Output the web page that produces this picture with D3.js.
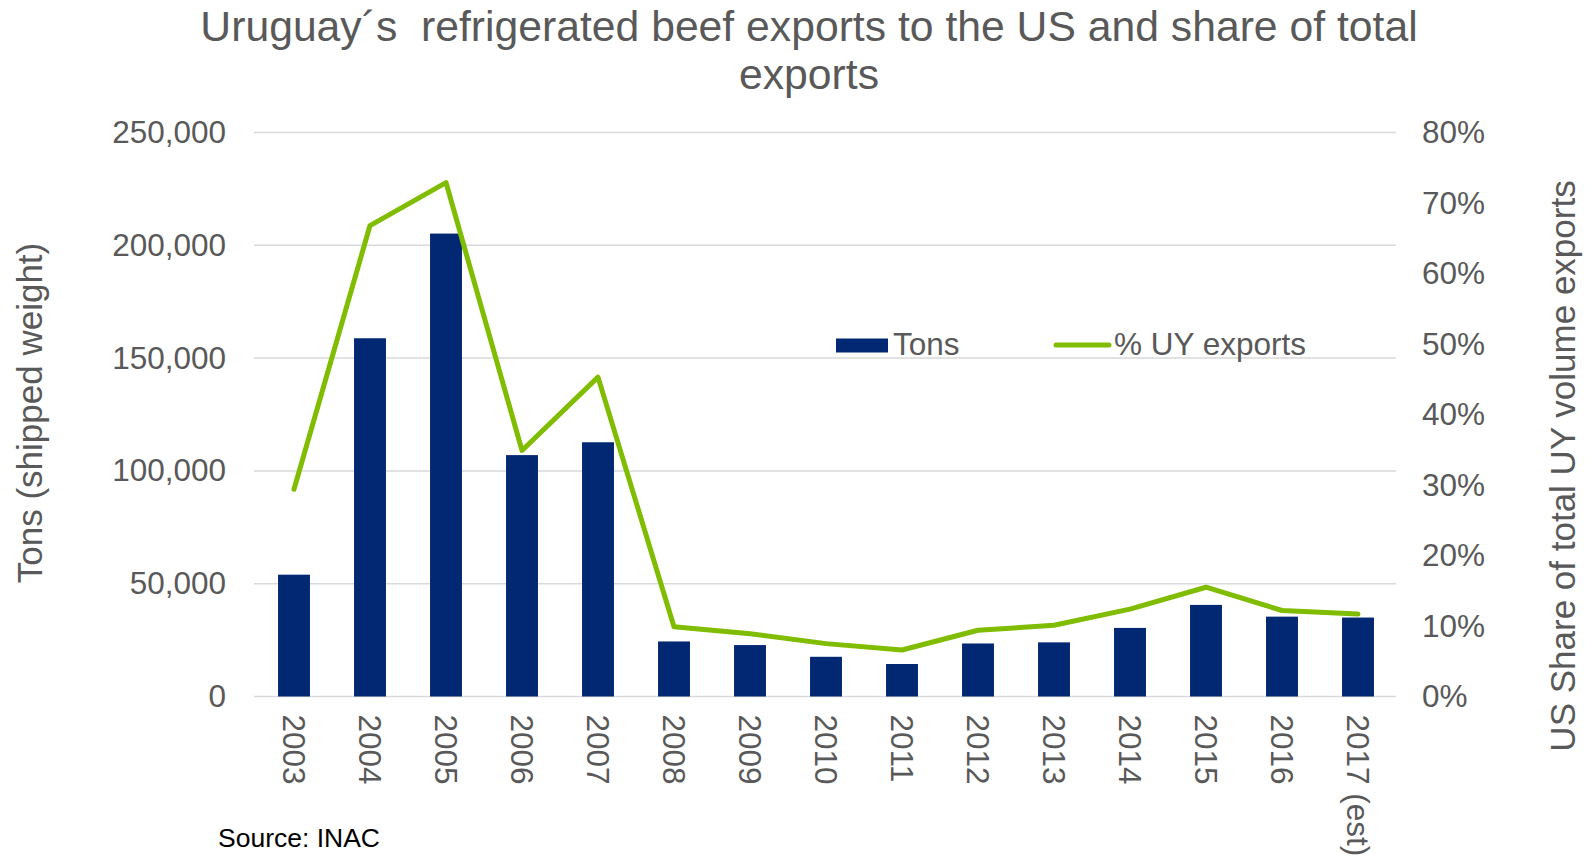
<!DOCTYPE html>
<html>
<head>
<meta charset="utf-8">
<script src="https://cdn.jsdelivr.net/npm/d3@7"></script>
<style>
  html, body { margin: 0; padding: 0; background: #fff; }
  svg { display: block; font-family: "Liberation Sans", Arial, sans-serif; }
</style>
</head>
<body>
<svg id="chart" width="1595" height="856"></svg>
<script>
// data

const years = ['2003', '2004', '2005', '2006', '2007', '2008', '2009', '2010',
               '2011', '2012', '2013', '2014', '2015', '2016', '2017 (est)']
const tons = [54000, 158800, 205200, 107000, 112700, 24400, 22800, 17600,
              14400, 23500, 24000, 30400, 40600, 35400, 35000]
const share = [0.294, 0.668, 0.729, 0.349, 0.453, 0.099, 0.089, 0.075,
               0.066, 0.094, 0.101, 0.124, 0.155, 0.122, 0.117]
const tonTicks = [0, 50000, 100000, 150000, 200000, 250000]
const shareTicks = [0, 0.1, 0.2, 0.3, 0.4, 0.5, 0.6, 0.7, 0.8]

const BAR = '#022873'
const LINE = '#80bc00'
const GREY = '#595959'
const GRID = '#d9d9d9'

const PLOT = { left: 256, right: 1396, top: 132.5, bottom: 696.5 }

const svg = d3.select('#chart')

let x = d3.scaleBand()
  .domain(years)
  .range([PLOT.left, PLOT.right])
  .paddingInner(0.58)
  .paddingOuter(0.29)
let cx = (d) => x(d) + x.bandwidth() / 2

let y = d3.scaleLinear().domain([0, 250000]).range([PLOT.bottom, PLOT.top])
let y2 = d3.scaleLinear().domain([0, 0.8]).range([PLOT.bottom, PLOT.top])

// title
svg.append('text')
  .attr('x', 809).attr('y', 41)
  .attr('text-anchor', 'middle')
  .attr('font-size', 42.7).attr('fill', GREY)
  .text('Uruguay\u00b4s\u00a0 refrigerated beef exports to the US and share of total')
svg.append('text')
  .attr('x', 809).attr('y', 89)
  .attr('text-anchor', 'middle')
  .attr('font-size', 42.7).attr('fill', GREY)
  .text('exports')

// gridlines
svg.append('g')
  .selectAll('line')
  .data(tonTicks)
  .join('line')
    .attr('x1', PLOT.left - 2).attr('x2', PLOT.right)
    .attr('y1', (d) => y(d)).attr('y2', (d) => y(d))
    .attr('stroke', GRID).attr('stroke-width', 1.5)

// left axis
let left = svg.append('g')
  .attr('transform', 'translate(' + (PLOT.left - 30) + ',0)')
  .call(d3.axisLeft(y).tickValues(tonTicks).tickFormat(d3.format(',')).tickSize(0).tickPadding(0))
left.select('.domain').remove()
left.selectAll('text')
  .attr('font-size', 31.5).attr('fill', GREY).attr('font-family', null)

// right axis
let right = svg.append('g')
  .attr('transform', 'translate(' + (PLOT.right + 26) + ',0)')
  .call(d3.axisRight(y2).tickValues(shareTicks).tickFormat(d3.format('.0%')).tickSize(0).tickPadding(0))
right.select('.domain').remove()
right.selectAll('text')
  .attr('font-size', 31.5).attr('fill', GREY).attr('font-family', null)

// bars
svg.append('g')
  .selectAll('rect')
  .data(years)
  .join('rect')
    .attr('x', (d) => x(d))
    .attr('width', x.bandwidth())
    .attr('y', (d, i) => y(tons[i]))
    .attr('height', (d, i) => y(0) - y(tons[i]))
    .attr('fill', BAR)

// share line
let line = d3.line()
  .x((d, i) => cx(years[i]))
  .y((d) => y2(d))
svg.append('path')
  .datum(share)
  .attr('d', line)
  .attr('fill', 'none')
  .attr('stroke', LINE)
  .attr('stroke-width', 5)
  .attr('stroke-linejoin', 'round')
  .attr('stroke-linecap', 'round')

// x labels, rotated
svg.append('g')
  .selectAll('text')
  .data(years)
  .join('text')
    .attr('transform', (d) => 'translate(' + cx(d) + ',' + (PLOT.bottom + 18) + ') rotate(90)')
    .attr('dy', '0.35em')
    .attr('font-size', 31.5).attr('fill', GREY)
    .text((d) => d)

// axis titles
svg.append('text')
  .attr('transform', 'translate(30,413) rotate(-90)')
  .attr('dy', '0.35em')
  .attr('text-anchor', 'middle')
  .attr('font-size', 35).attr('fill', GREY)
  .text('Tons (shipped weight)')
svg.append('text')
  .attr('transform', 'translate(1563,466) rotate(-90)')
  .attr('dy', '0.35em')
  .attr('text-anchor', 'middle')
  .attr('font-size', 35).attr('fill', GREY)
  .text('US Share of total UY volume exports')

// legend
let legend = svg.append('g').attr('font-size', 31.5).attr('fill', GREY)
legend.append('rect')
  .attr('x', 836).attr('y', 338.5).attr('width', 52).attr('height', 14)
  .attr('fill', BAR)
legend.append('text').attr('x', 893).attr('y', 355).text('Tons')
legend.append('line')
  .attr('x1', 1056).attr('x2', 1109).attr('y1', 345).attr('y2', 345)
  .attr('stroke', LINE).attr('stroke-width', 5).attr('stroke-linecap', 'round')
legend.append('text').attr('x', 1114).attr('y', 355).text('% UY exports')

// source note
svg.append('text')
  .attr('x', 218).attr('y', 847)
  .attr('font-size', 26.5).attr('fill', '#000')
  .text('Source: INAC')
</script>
</body>
</html>
